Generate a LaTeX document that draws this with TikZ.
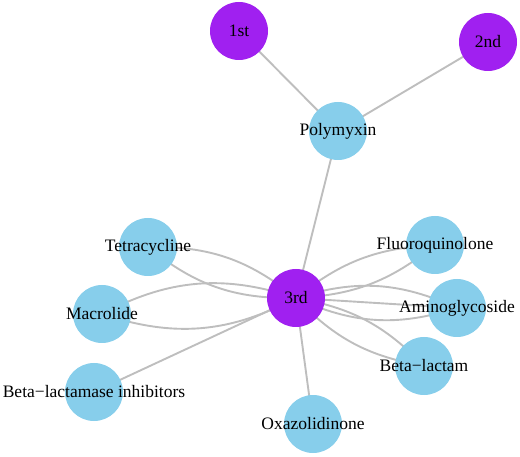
\documentclass[tikz,border=0pt]{standalone}
\usepackage{fontspec}
\setmainfont{Liberation Serif}
\pgfdeclarelayer{background}
\pgfsetlayers{background,main}
\definecolor{skyb}{HTML}{87CEEB}
\definecolor{purp}{HTML}{A020F0}
\definecolor{edgegray}{RGB}{190,190,190}
\tikzset{
  vbase/.style={circle, minimum size=58pt, inner sep=0pt,
    label={[font=\fontsize{17.5}{20}\selectfont, text=black, inner sep=0pt]center:#1}},
  bluev/.style={vbase={#1}, fill=skyb},
  purv/.style={vbase={#1}, fill=purp},
  edge/.style={draw=edgegray, line width=1.9pt}
}
\begin{document}
\begin{tikzpicture}[x=1pt,y=-1pt]
\useasboundingbox (0,0) rectangle (520,457);
\node[purv={1st}] (first) at (239,31) {};
\node[purv={2nd}] (second) at (488,42) {};
\node[bluev={Polymyxin}] (poly) at (338,131) {};
\node[purv={3rd}] (third) at (296,298) {};
\node[bluev={Tetracycline}] (tetra) at (148,247) {};
\node[bluev={Macrolide}] (macro) at (102,314) {};
\node[bluev={Beta−lactamase inhibitors}] (blinh) at (94,392) {};
\node[bluev={Oxazolidinone}] (oxa) at (313,424) {};
\node[bluev={Fluoroquinolone}] (fluoro) at (435,245) {};
\node[bluev={Aminoglycoside}] (amino) at (457,308) {};
\node[bluev={Beta−lactam}] (blact) at (424,366) {};
\begin{pgfonlayer}{background}
\draw[edge] (first.center) -- (poly.center);
\draw[edge] (second.center) -- (poly.center);
\draw[edge] (poly.center) -- (third.center);
\draw[edge] (third.center) to[bend left=20] (tetra.center);
\draw[edge] (third.center) to[bend right=20] (tetra.center);
\draw[edge] (third.center) to[bend left=23] (macro.center);
\draw[edge] (third.center) to[bend right=23] (macro.center);
\draw[edge] (third.center) -- (blinh.center);
\draw[edge] (third.center) -- (oxa.center);
\draw[edge] (third.center) to[bend left=18] (fluoro.center);
\draw[edge] (third.center) to[bend right=18] (fluoro.center);
\draw[edge] (third.center) to[bend left=21] (amino.center);
\draw[edge] (third.center) -- (amino.center);
\draw[edge] (third.center) to[bend right=21] (amino.center);
\draw[edge] (third.center) to[bend left=18] (blact.center);
\draw[edge] (third.center) to[bend right=18] (blact.center);
\end{pgfonlayer}
\end{tikzpicture}
\end{document}
